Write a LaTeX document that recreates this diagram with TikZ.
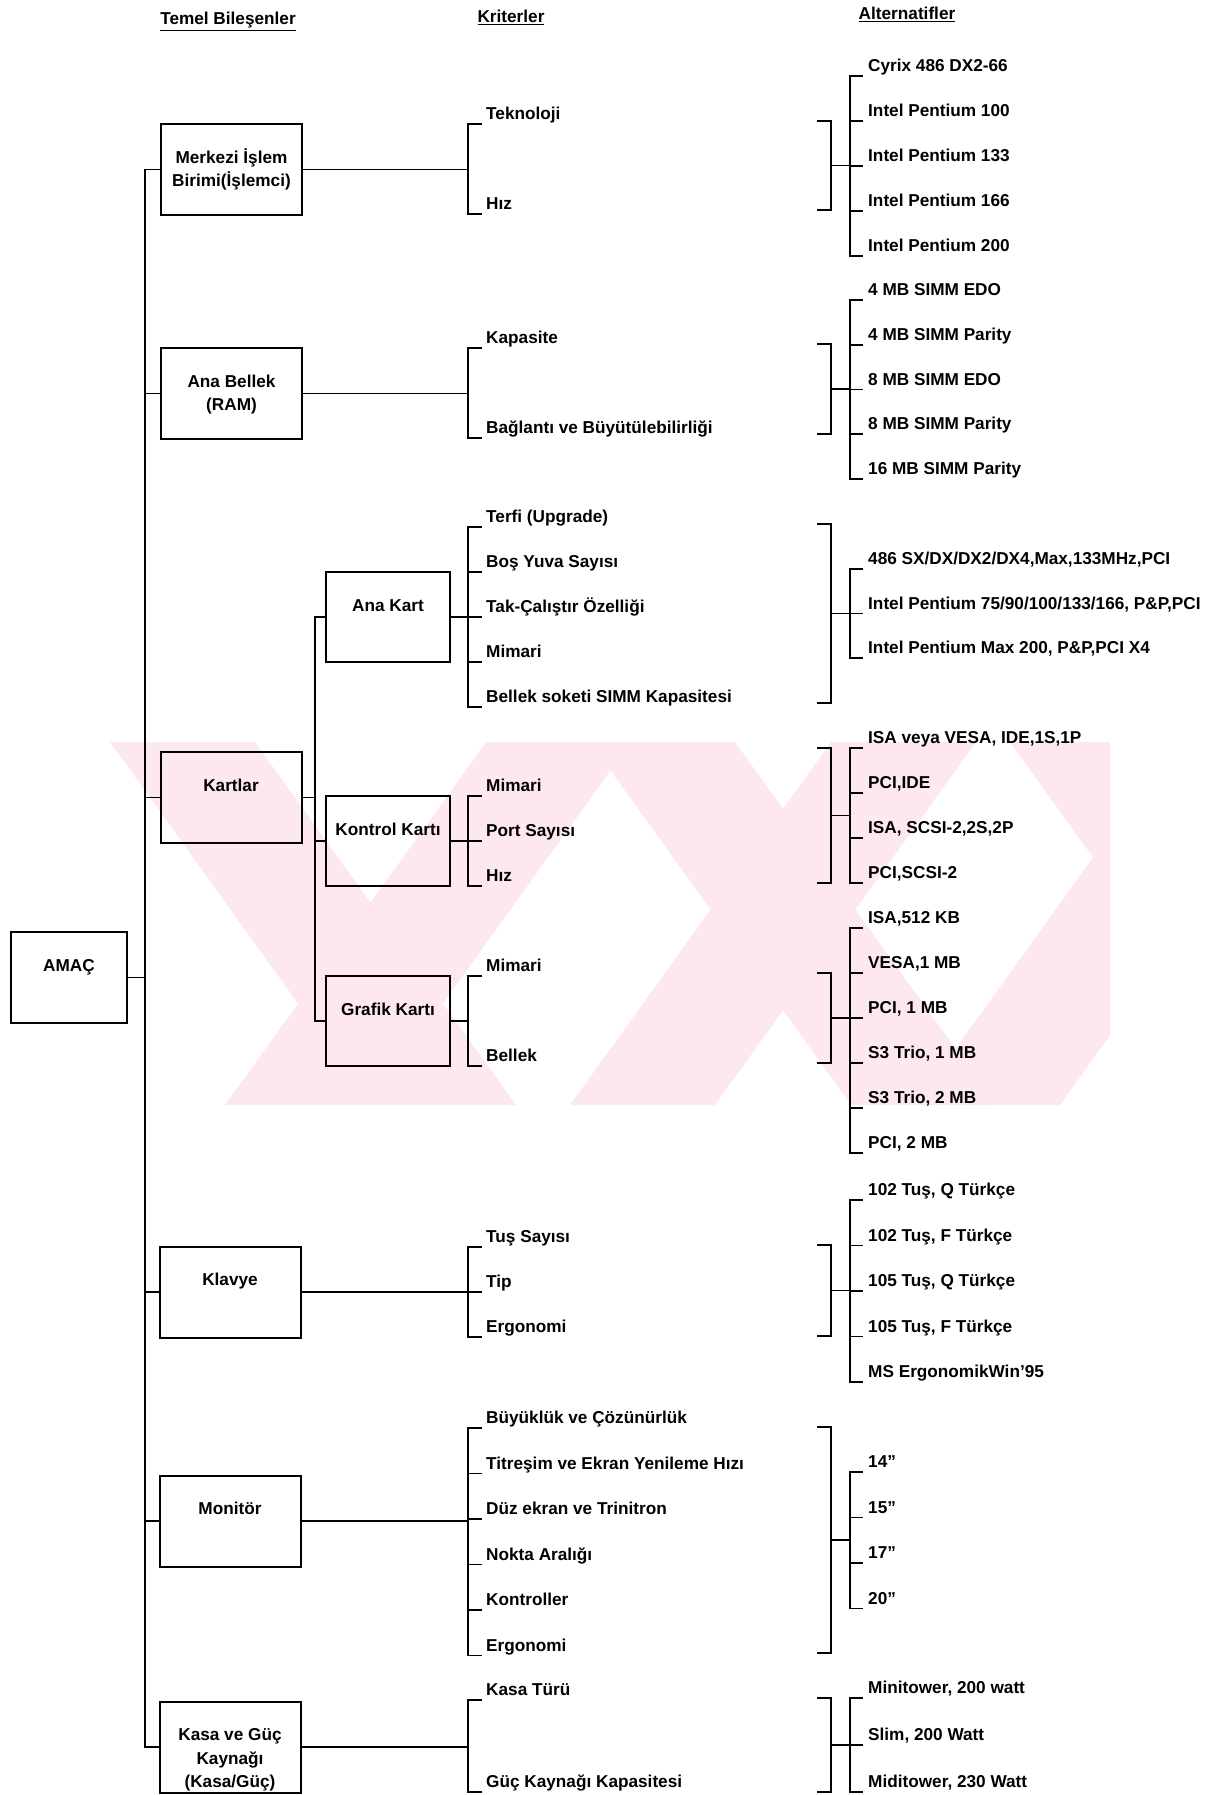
\documentclass[tikz,border=0pt]{standalone}
\usepackage{fontspec}
\setmainfont{Liberation Sans}
\usetikzlibrary{positioning}

\definecolor{wmpink}{RGB}{253,233,237}

\begin{document}
\begin{tikzpicture}[
    x=1pt, y=-1pt,
    every node/.style={font=\fontsize{17.2}{23.5}\selectfont\bfseries, inner sep=0pt},
    box/.style={draw, line width=2pt, minimum width=141pt, minimum height=91pt},
    subbox/.style={box, minimum width=124pt, minimum height=90pt},
    boxtext/.style={anchor=north, align=center, yshift=-23.5pt},
    item/.style={anchor=base west},
    head/.style={anchor=base},
    link/.style={line width=1.8pt, line cap=rect}
]
\useasboundingbox (0,0) rectangle (1207,1795);

% watermark behind everything
\begin{scope}
  \clip (105,742) rectangle (1110,1105);
  \foreach \ta/\tb/\ba/\bb in {110/255/516/371, 590/735/996/851, 486/631/370/225, 831/976/715/570, 1010/1155/1416/1271, 1176/1321/1060/915}
    \fill[wmpink] (\ta,742) -- (\tb,742) -- (\ba,1105) -- (\bb,1105) -- cycle;
\end{scope}

% column heads
\node[head] (temel) at (228,25) {\underline{Temel Bileşenler}};
\node[head] (krit) at (511,22.5) {\underline{Kriterler}};
\node[head] (alter) at (907,20) {\underline{Alternatifler}};

% boxes
\node[box, minimum width=116pt] (amac) at (69,977.5) {};
\node[box] (cpu) at (231.5,169.5) {};
\node[box] (ram) at (231.5,393.5) {};
\node[box] (kartlar) at (231,797.5) {};
\node[box] (klavye) at (230,1292) {};
\node[box] (monitor) at (230,1521) {};
\node[box] (kasa) at (230,1747) {};
\node[subbox] (anakart) at (388,617) {};
\node[subbox] (kontrol) at (388,841) {};
\node[subbox] (grafik) at (388,1021) {};

\node[boxtext] (amac-t) at (amac.north) {\strut AMAÇ};
\node[boxtext] (cpu-t) at (cpu.north) {\strut Merkezi İşlem\\Birimi(İşlemci)};
\node[boxtext] (ram-t) at (ram.north) {\strut Ana Bellek\\(RAM)};
\node[boxtext] (kartlar-t) at (kartlar.north) {\strut Kartlar};
\node[boxtext] (klavye-t) at (klavye.north) {\strut Klavye};
\node[boxtext] (monitor-t) at (monitor.north) {\strut Monitör};
\node[boxtext] (kasa-t) at (kasa.north) {\strut Kasa ve Güç\\Kaynağı\\(Kasa/Güç)};
\node[boxtext] (anakart-t) at (anakart.north) {\strut Ana Kart};
\node[boxtext] (kontrol-t) at (kontrol.north) {\strut Kontrol Kartı};
\node[boxtext] (grafik-t) at (grafik.north) {\strut Grafik Kartı};

% tree lines
\coordinate (trunk) at (145,0);
\coordinate (sub) at (315,0);
\coordinate (kx) at (468,0);
\draw[link] (amac.east) -- (amac.east -| trunk);
\draw[link] (cpu.west -| trunk) -- (kasa.west -| trunk);
\foreach \b in {cpu,ram,kartlar,klavye,monitor,kasa}
  \draw[link] (\b.west -| trunk) -- (\b.west);
\draw[link] (kartlar.east) -- (kartlar.east -| sub);
\draw[link] (anakart.west -| sub) -- (grafik.west -| sub);
\foreach \b in {anakart,kontrol,grafik}
  \draw[link] (\b.west -| sub) -- (\b.west);
\foreach \b in {cpu,ram,anakart,kontrol,grafik,klavye,monitor,kasa}
  \draw[link] (\b.east) -- (\b.east -| kx);

% criteria brackets
\foreach \ya/\yb in {124/214, 348/438, 527/707, 796/886, 976/1066, 1247/1337, 1428/1655.5, 1700/1792}
  \draw[link] (468,\ya) -- (468,\yb);

\foreach \t [count=\i from 0] in {Teknoloji, Hız}{
  \node[item] (cpu-k\i) at (486,124+90*\i-4.5) {\t};
  \draw[link] (468,124+90*\i) -- ++(13,0);
}
\foreach \t [count=\i from 0] in {Kapasite, Bağlantı ve Büyütülebilirliği}{
  \node[item] (ram-k\i) at (486,348+90*\i-4.5) {\t};
  \draw[link] (468,348+90*\i) -- ++(13,0);
}
\foreach \t [count=\i from 0] in {Terfi (Upgrade), Boş Yuva Sayısı, Tak-Çalıştır Özelliği, Mimari, Bellek soketi SIMM Kapasitesi}{
  \node[item] (anakart-k\i) at (486,527+45*\i-4.5) {\t};
  \draw[link] (468,527+45*\i) -- ++(13,0);
}
\foreach \t [count=\i from 0] in {Mimari, Port Sayısı, Hız}{
  \node[item] (kontrol-k\i) at (486,796+45*\i-4.5) {\t};
  \draw[link] (468,796+45*\i) -- ++(13,0);
}
\foreach \t [count=\i from 0] in {Mimari, Bellek}{
  \node[item] (grafik-k\i) at (486,976+90*\i-4.5) {\t};
  \draw[link] (468,976+90*\i) -- ++(13,0);
}
\foreach \t [count=\i from 0] in {Tuş Sayısı, Tip, Ergonomi}{
  \node[item] (klavye-k\i) at (486,1247+45*\i-4.5) {\t};
  \draw[link] (468,1247+45*\i) -- ++(13,0);
}
\foreach \t [count=\i from 0] in {Büyüklük ve Çözünürlük, Titreşim ve Ekran Yenileme Hızı, Düz ekran ve Trinitron, Nokta Aralığı, Kontroller, Ergonomi}{
  \node[item] (monitor-k\i) at (486,1428+45.5*\i-4.5) {\t};
  \draw[link] (468,1428+45.5*\i) -- ++(13,0);
}
\foreach \t [count=\i from 0] in {Kasa Türü, Güç Kaynağı Kapasitesi}{
  \node[item] (kasa-k\i) at (486,1700+92*\i-4.5) {\t};
  \draw[link] (468,1700+92*\i) -- ++(13,0);
}

% alternative brackets
\foreach \ya/\yb in {121/210, 344/434, 524/703, 748/883, 973/1063, 1245/1336, 1427/1653, 1698/1792}{
  \draw[link] (818,\ya) -- (831,\ya) -- (831,\yb) -- (818,\yb);
  \draw[link] (831,{(\ya+\yb)/2}) -- (850,{(\ya+\yb)/2});
}
\foreach \ya/\yb in {76/256, 300/479, 569/658, 748/883, 928/1153, 1200/1382, 1472/1608.5, 1698/1792}
  \draw[link] (850,\ya) -- (850,\yb);

\foreach \t [count=\i from 0] in {Cyrix 486 DX2-66, Intel Pentium 100, Intel Pentium 133, Intel Pentium 166, Intel Pentium 200}{
  \node[item] (cpu-a\i) at (868,76+45*\i-4.5) {\t};
  \draw[link] (850,76+45*\i) -- ++(12,0);
}
\foreach \t [count=\i from 0] in {4 MB SIMM EDO, 4 MB SIMM Parity, 8 MB SIMM EDO, 8 MB SIMM Parity, 16 MB SIMM Parity}{
  \node[item] (ram-a\i) at (868,300+44.75*\i-4.5) {\t};
  \draw[link] (850,300+44.75*\i) -- ++(12,0);
}
\foreach \t [count=\i from 0] in {{486 SX/DX/DX2/DX4,Max,133MHz,PCI}, {Intel Pentium 75/90/100/133/166, P\&P,PCI}, {Intel Pentium Max 200, P\&P,PCI X4}}{
  \node[item] (anakart-a\i) at (868,569+44.5*\i-4.5) {\t};
  \draw[link] (850,569+44.5*\i) -- ++(12,0);
}
\foreach \t [count=\i from 0] in {{ISA veya VESA, IDE,1S,1P}, {PCI,IDE}, {ISA, SCSI-2,2S,2P}, {PCI,SCSI-2}}{
  \node[item] (kontrol-a\i) at (868,748+45*\i-4.5) {\t};
  \draw[link] (850,748+45*\i) -- ++(12,0);
}
\foreach \t [count=\i from 0] in {{ISA,512 KB}, {VESA,1 MB}, {PCI, 1 MB}, {S3 Trio, 1 MB}, {S3 Trio, 2 MB}, {PCI, 2 MB}}{
  \node[item] (grafik-a\i) at (868,928+45*\i-4.5) {\t};
  \draw[link] (850,928+45*\i) -- ++(12,0);
}
\foreach \t [count=\i from 0] in {{102 Tuş, Q Türkçe}, {102 Tuş, F Türkçe}, {105 Tuş, Q Türkçe}, {105 Tuş, F Türkçe}, MS ErgonomikWin'95}{
  \node[item] (klavye-a\i) at (868,1200+45.5*\i-4.5) {\t};
  \draw[link] (850,1200+45.5*\i) -- ++(12,0);
}
\foreach \t [count=\i from 0] in {14", 15", 17", 20"}{
  \node[item] (monitor-a\i) at (868,1472+45.5*\i-4.5) {\t};
  \draw[link] (850,1472+45.5*\i) -- ++(12,0);
}
\foreach \t [count=\i from 0] in {{Minitower, 200 watt}, {Slim, 200 Watt}, {Miditower, 230 Watt}}{
  \node[item] (kasa-a\i) at (868,1698+47*\i-4.5) {\t};
  \draw[link] (850,1698+47*\i) -- ++(12,0);
}

\end{tikzpicture}
\end{document}
